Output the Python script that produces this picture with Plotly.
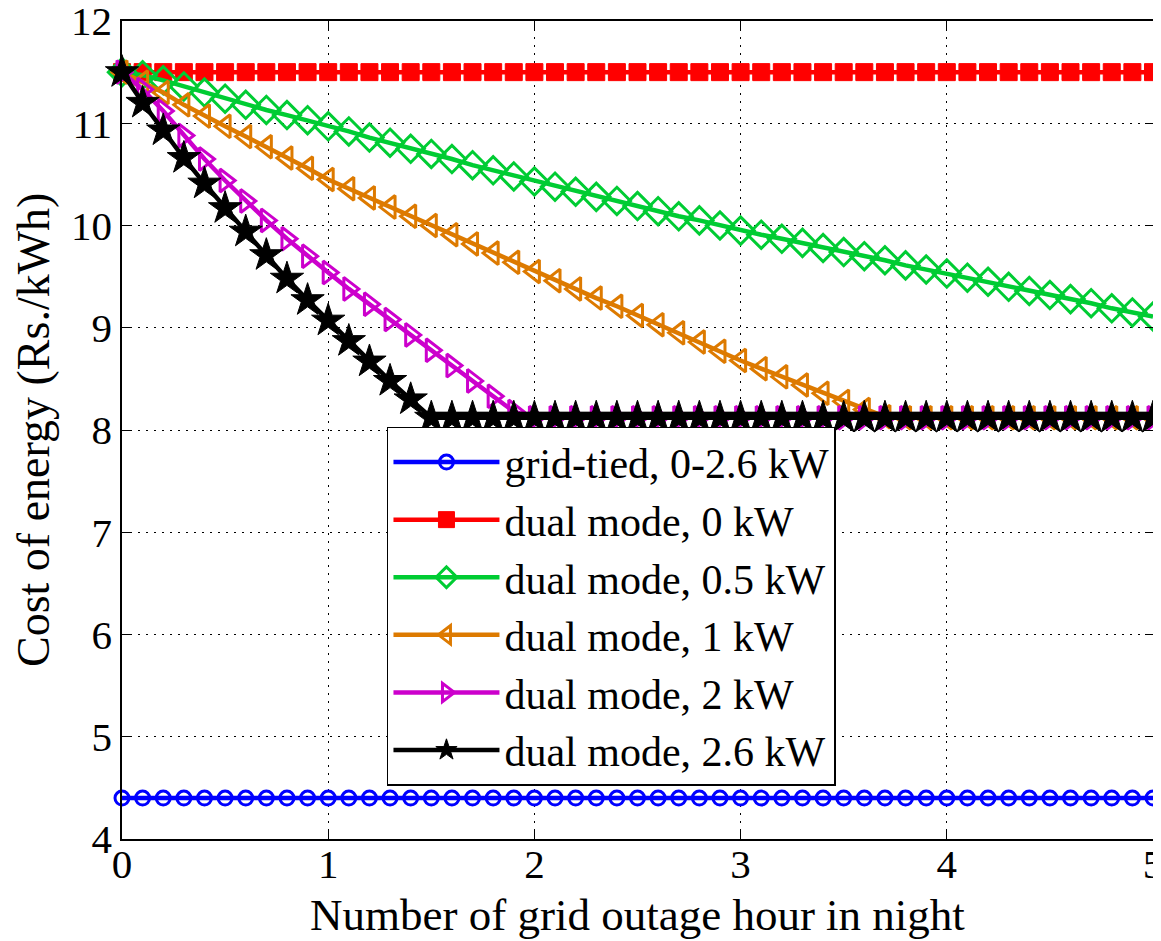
import plotly.graph_objects as go

hours = [0.0, 0.1, 0.2, 0.3, 0.4, 0.5, 0.6, 0.7, 0.8, 0.9,
         1.0, 1.1, 1.2, 1.3, 1.4, 1.5, 1.6, 1.7, 1.8, 1.9,
         2.0, 2.1, 2.2, 2.3, 2.4, 2.5, 2.6, 2.7, 2.8, 2.9,
         3.0, 3.1, 3.2, 3.3, 3.4, 3.5, 3.6, 3.7, 3.8, 3.9,
         4.0, 4.1, 4.2, 4.3, 4.4, 4.5, 4.6, 4.7, 4.8, 4.9, 5.0]

grid_tied = [4.4, 4.4, 4.4, 4.4, 4.4, 4.4, 4.4, 4.4, 4.4, 4.4,
             4.4, 4.4, 4.4, 4.4, 4.4, 4.4, 4.4, 4.4, 4.4, 4.4,
             4.4, 4.4, 4.4, 4.4, 4.4, 4.4, 4.4, 4.4, 4.4, 4.4,
             4.4, 4.4, 4.4, 4.4, 4.4, 4.4, 4.4, 4.4, 4.4, 4.4,
             4.4, 4.4, 4.4, 4.4, 4.4, 4.4, 4.4, 4.4, 4.4, 4.4, 4.4]

dual_0kw = [11.5, 11.5, 11.5, 11.5, 11.5, 11.5, 11.5, 11.5, 11.5, 11.5,
            11.5, 11.5, 11.5, 11.5, 11.5, 11.5, 11.5, 11.5, 11.5, 11.5,
            11.5, 11.5, 11.5, 11.5, 11.5, 11.5, 11.5, 11.5, 11.5, 11.5,
            11.5, 11.5, 11.5, 11.5, 11.5, 11.5, 11.5, 11.5, 11.5, 11.5,
            11.5, 11.5, 11.5, 11.5, 11.5, 11.5, 11.5, 11.5, 11.5, 11.5, 11.5]

dual_05kw = [11.50, 11.47, 11.42, 11.36, 11.30, 11.24, 11.18, 11.13, 11.08, 11.03,
             10.97, 10.92, 10.86, 10.81, 10.75, 10.70, 10.65, 10.59, 10.54, 10.48,
             10.43, 10.38, 10.33, 10.28, 10.24, 10.19, 10.14, 10.09, 10.05, 10.00,
             9.95, 9.91, 9.87, 9.83, 9.78, 9.74, 9.70, 9.66, 9.61, 9.57,
             9.53, 9.49, 9.45, 9.40, 9.36, 9.32, 9.28, 9.24, 9.19, 9.15, 9.11]

dual_1kw = [11.50, 11.40, 11.30, 11.18, 11.07, 10.97, 10.87, 10.77, 10.66, 10.56,
            10.45, 10.36, 10.27, 10.18, 10.09, 10.00, 9.91, 9.82, 9.73, 9.64,
            9.55, 9.46, 9.38, 9.29, 9.21, 9.12, 9.03, 8.95, 8.86, 8.77,
            8.68, 8.60, 8.52, 8.44, 8.36, 8.28, 8.20, 8.13, 8.12, 8.12,
            8.12, 8.12, 8.12, 8.12, 8.12, 8.12, 8.12, 8.12, 8.12, 8.12, 8.12]

dual_2kw = [11.50, 11.33, 11.12, 10.88, 10.65, 10.44, 10.24, 10.05, 9.87, 9.70,
            9.54, 9.38, 9.23, 9.08, 8.93, 8.78, 8.63, 8.48, 8.33, 8.18,
            8.12, 8.12, 8.12, 8.12, 8.12, 8.12, 8.12, 8.12, 8.12, 8.12,
            8.12, 8.12, 8.12, 8.12, 8.12, 8.12, 8.12, 8.12, 8.12, 8.12,
            8.12, 8.12, 8.12, 8.12, 8.12, 8.12, 8.12, 8.12, 8.12, 8.12, 8.12]

dual_26kw = [11.50, 11.20, 10.93, 10.66, 10.41, 10.17, 9.94, 9.71, 9.48, 9.27,
             9.07, 8.87, 8.67, 8.48, 8.30, 8.12, 8.12, 8.12, 8.12, 8.12,
             8.12, 8.12, 8.12, 8.12, 8.12, 8.12, 8.12, 8.12, 8.12, 8.12,
             8.12, 8.12, 8.12, 8.12, 8.12, 8.12, 8.12, 8.12, 8.12, 8.12,
             8.12, 8.12, 8.12, 8.12, 8.12, 8.12, 8.12, 8.12, 8.12, 8.12, 8.12]

series_names = ["grid-tied, 0-2.6 kW", "dual mode, 0 kW", "dual mode, 0.5 kW",
                "dual mode, 1 kW", "dual mode, 2 kW", "dual mode, 2.6 kW"]
x_ticks = [0, 1, 2, 3, 4, 5]
y_ticks = [4, 5, 6, 7, 8, 9, 10, 11, 12]
x_title = "Number of grid outage hour in night"
y_title = "Cost of energy (Rs./kWh)"

styles = [
    dict(color="#0000FF", symbol="circle-open", size=14, lw=3),
    dict(color="#FF0000", symbol="square", size=17, lw=1),
    dict(color="#00CC33", symbol="diamond-open", size=21, lw=3),
    dict(color="#DD7A00", symbol="triangle-left-open", size=20, lw=3),
    dict(color="#CC00CC", symbol="triangle-right-open", size=20, lw=3),
    dict(color="#000000", symbol="star", size=25, lw=1),
]
values = [grid_tied, dual_0kw, dual_05kw, dual_1kw, dual_2kw, dual_26kw]

fig = go.Figure()
for name, vals, st in zip(series_names, values, styles):
    fig.add_trace(go.Scatter(
        x=hours, y=vals, name=name, mode="lines+markers",
        line=dict(color=st["color"], width=4.5),
        marker=dict(symbol=st["symbol"], size=st["size"], color=st["color"],
                    line=dict(color=st["color"], width=st["lw"])),
        cliponaxis=False,
    ))

FONT = "Liberation Serif"
axis_common = dict(
    showline=True, linecolor="black", linewidth=1.5, mirror="ticks",
    ticks="inside", ticklen=8, tickwidth=1, tickcolor="black",
    showgrid=True, gridcolor="black", gridwidth=1, griddash="2px,6px",
    zeroline=False, automargin=False, ticklabeloverflow="allow",
    tickfont=dict(family=FONT, size=41, color="black"),
)

# page body has an 8px default margin, so the figure is shifted by 8px
fig.update_layout(
    width=1153, height=933,
    margin=dict(l=114, r=8, t=13, b=102, autoexpand=False),
    paper_bgcolor="white", plot_bgcolor="white",
    font=dict(family=FONT, color="black"),
    xaxis=dict(range=[0, 5], tickvals=x_ticks, ticktext=[str(v) for v in x_ticks],
               ticklabelstandoff=-12, **axis_common),
    yaxis=dict(range=[4, 12], tickvals=y_ticks, ticktext=[str(v) for v in y_ticks],
               **axis_common),
    legend=dict(x=0.257, y=0.504, xanchor="left", yanchor="top",
                bgcolor="white", bordercolor="black", borderwidth=1.5,
                font=dict(family=FONT, size=42, color="black"),
                itemwidth=106, tracegroupgap=0),
    showlegend=True,
    annotations=[
        dict(text=x_title, xref="paper", yref="paper", x=0.5, y=-0.0935,
             xanchor="center", yanchor="middle", showarrow=False,
             font=dict(family=FONT, size=45, color="black")),
        dict(text=y_title, xref="paper", yref="paper", x=-0.0863, y=0.5,
             xanchor="center", yanchor="middle", showarrow=False, textangle=-90,
             font=dict(family=FONT, size=46, color="black")),
    ],
)

fig.write_html("out.html")
